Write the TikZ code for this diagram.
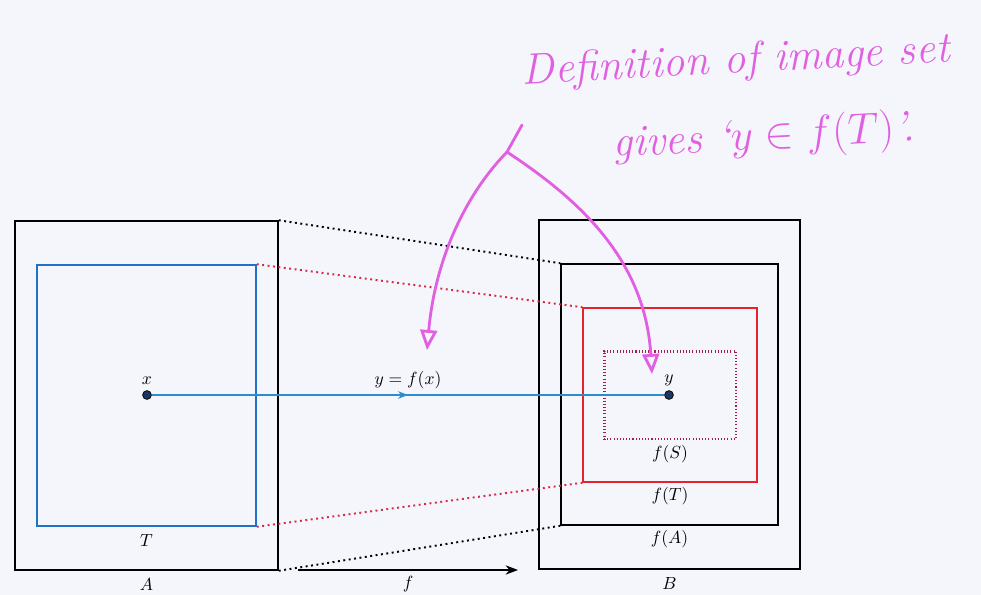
\documentclass[tikz,border=0pt]{standalone}
\usetikzlibrary{arrows.meta,positioning,calc,decorations.markings}
\usepackage{amsmath,amssymb}
\definecolor{setblue}{RGB}{30,115,200}
\definecolor{mapblue}{RGB}{45,140,205}
\definecolor{ptnavy}{RGB}{25,55,95}
\definecolor{imgred}{RGB}{230,35,45}
\definecolor{linkred}{RGB}{215,40,70}
\definecolor{subred}{RGB}{160,30,80}
\definecolor{ink}{RGB}{225,95,225}
\definecolor{paper}{RGB}{244,246,252}

\begin{document}
\begin{tikzpicture}[x=0.02cm, y=-0.02cm,
  setbox/.style={rectangle, draw, line width=0.9pt, inner sep=0pt},
  dot/.style={circle, fill=ptnavy, draw=black, line width=0.4pt, inner sep=0pt, minimum size=5pt},
  link/.style={dotted, line width=1.1pt},
  lbl/.style={inner sep=1pt, text=black},
  note/.style={ink, rotate=3, inner sep=0pt, font=\Huge\itshape},
  mapline/.style={mapblue, line width=0.6pt, postaction={decorate},
    decoration={markings, mark=at position 0.5 with {\arrow{Stealth[length=2mm]}}}},
  hand/.style={ink, line width=1.6pt, line cap=round, -{Triangle[open, length=4mm, width=3.4mm]}}
]
  \fill[paper] (0,0) rectangle (981,595);
  \useasboundingbox (0,0) rectangle (981,595);

  \node[setbox, minimum width=5.26cm, minimum height=6.98cm] (A) at (146.5,395.5) {};
  \node[setbox, setblue, minimum width=4.38cm, minimum height=5.22cm] (T) at (146.5,395.5) {};
  \node[setbox, minimum width=5.22cm, minimum height=6.98cm] (B) at (669.5,394.5) {};
  \node[setbox, minimum width=4.34cm, minimum height=5.22cm] (fA) at (669.5,394.5) {};
  \node[setbox, imgred, minimum width=3.48cm, minimum height=3.48cm] (fT) at (670,395) {};
  \node[setbox, subred, dash pattern=on 0.6pt off 1.2pt, line width=1.7pt, minimum width=2.64cm, minimum height=1.76cm] (fS) at (670,395) {};

  \node[lbl, below=3pt of A.south] (Alabel) {$A$};
  \node[lbl, below=3pt of T.south] (Tlabel) {$T$};
  \node[lbl, below=3pt of B.south] (Blabel) {$B$};
  \node[lbl, below=1.5pt of fA.south] (fAlabel) {$f(A)$};
  \node[lbl, below=1.5pt of fT.south] (fTlabel) {$f(T)$};
  \node[lbl, below=1.5pt of fS.south] (fSlabel) {$f(S)$};

  \draw[link] (A.north east) -- (fA.north west);
  \draw[link] (A.south east) -- (fA.south west);
  \draw[link, linkred] (T.north east) -- (fT.north west);
  \draw[link, linkred] (T.south east) -- (fT.south west);

  \node[dot] (x) at (147,395) {};
  \node[dot] (y) at (669,395) {};
  \node[lbl, above=2pt of x] (xlabel) {$x$};
  \node[lbl, above=1pt of y] (ylabel) {$y$};
  \draw[mapline] (x) -- node[lbl, above=2pt] (maplabel) {$y=f(x)$} (y);

  \coordinate (fsrc) at (298,570);
  \coordinate (fdst) at (518,570);
  \draw[-{Stealth[length=2.5mm]}, line width=0.6pt] (fsrc) -- node[lbl, below=2pt] (flabel) {$f$} (fdst);

  \node[note] (noteA) at (736,62) {Definition of image set};
  \node[note] (noteB) at (764,138) {gives `$y\in f(T)$'.};
  \coordinate (stem) at (522,125);
  \coordinate (fork) at (507,152);
  \coordinate (tipL) at (427,350);
  \coordinate (tipR) at (652,374);
  \draw[ink, line width=1.6pt, line cap=round] (stem) -- (fork);
  \draw[hand] (fork) .. controls (465,195) and (435,260) .. (tipL);
  \draw[hand] (fork) .. controls (580,200) and (645,260) .. (tipR);
\end{tikzpicture}
\end{document}
